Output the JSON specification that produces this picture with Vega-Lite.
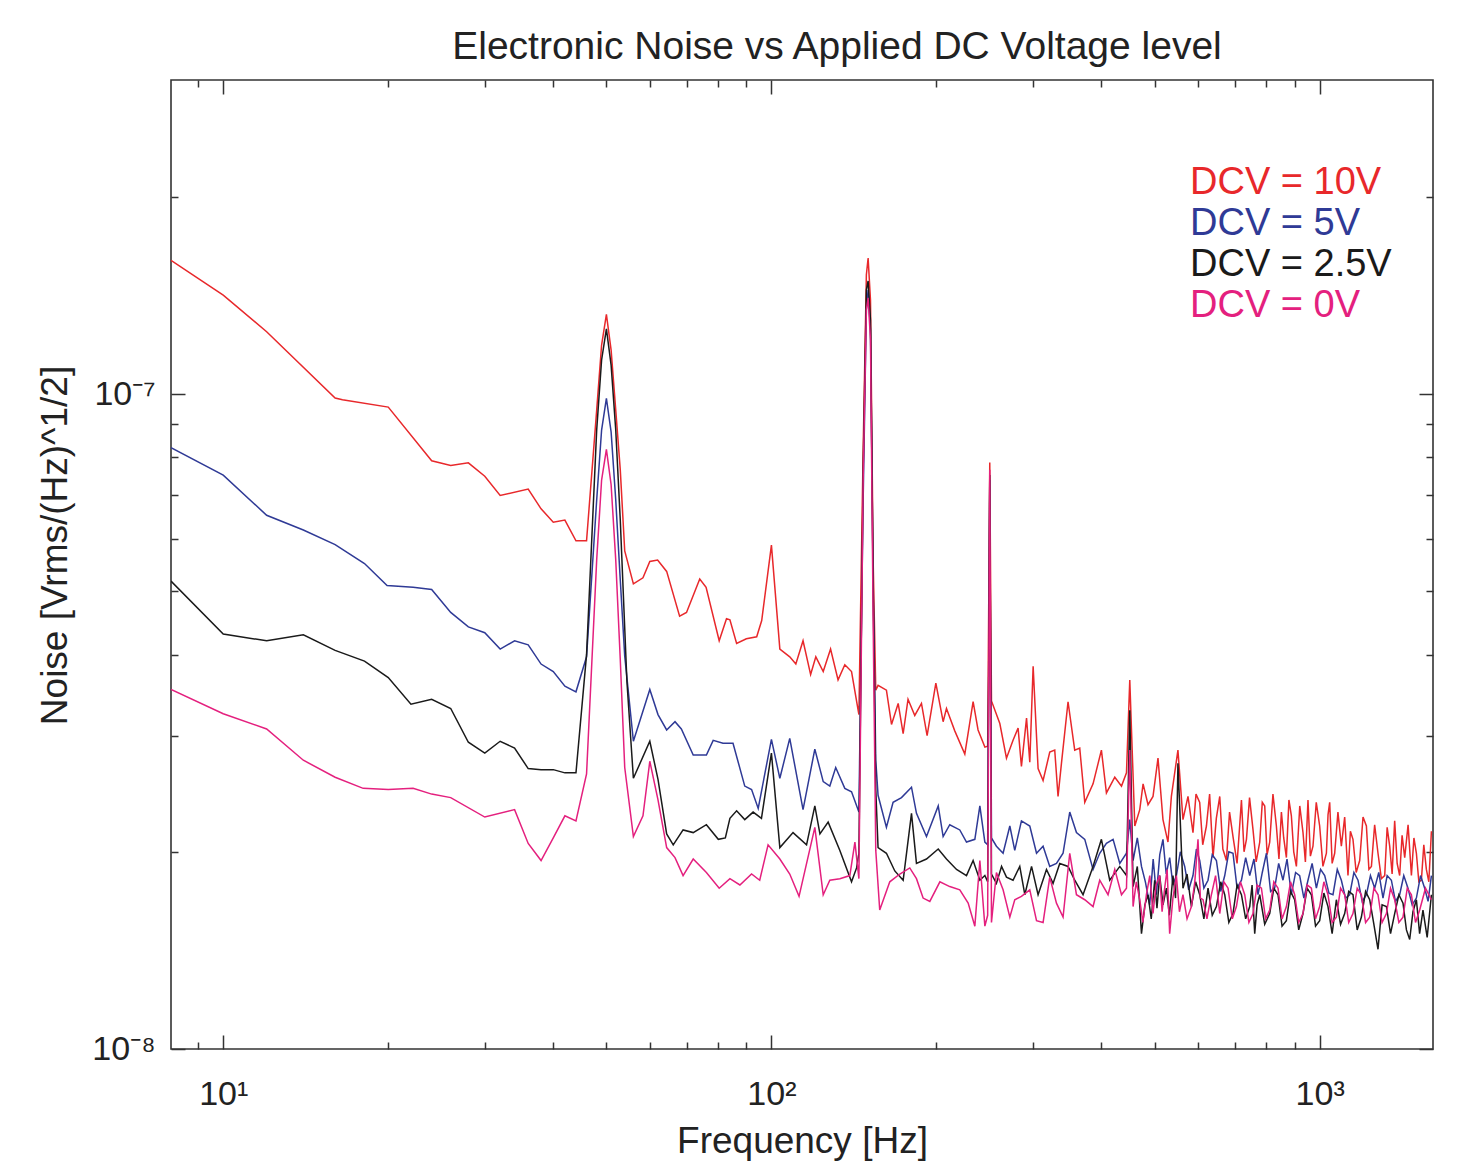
{
  "$schema": "https://vega.github.io/schema/vega-lite/v6.json",
  "width": 1262,
  "height": 969,
  "autosize": {"type": "none"},
  "padding": {"left": 171, "top": 80, "right": 47, "bottom": 123},
  "background": "white",
  "title": {"text": "Electronic Noise vs Applied DC Voltage level", "anchor": "middle", "frame": "group", "dx": 35, "dy": 42, "offset": 23, "baseline": "alphabetic", "fontSize": 39, "fontWeight": "normal", "font": "Liberation Sans", "color": "#222222"},
  "config": {
    "view": {"stroke": "#333333", "strokeWidth": 1.6},
    "axis": {"domain": false, "grid": false, "labelFont": "Liberation Sans", "titleFont": "Liberation Sans", "tickColor": "#333333", "tickWidth": 1.5, "labelColor": "#222222", "titleColor": "#222222", "titleFontWeight": "normal", "labelOverlap": false, "labelBound": false, "labelFlush": false}
  },
  "datasets": {
    "dcv10": [
      {"freq":8.03,"noise":1.600e-7},{"freq":10,"noise":1.416e-7},{"freq":12,"noise":1.245e-7},{"freq":16,"noise":9.86e-8},{"freq":16.5,"noise":9.80e-8},{"freq":20,"noise":9.55e-8},{"freq":24,"noise":7.91e-8},{"freq":26,"noise":7.78e-8},{"freq":28,"noise":7.85e-8},{"freq":30,"noise":7.49e-8},{"freq":32,"noise":7.00e-8},{"freq":36,"noise":7.16e-8},{"freq":38,"noise":6.68e-8},{"freq":40,"noise":6.37e-8},{"freq":42,"noise":6.42e-8},{"freq":44,"noise":5.97e-8},{"freq":46,"noise":5.97e-8},{"freq":48,"noise":9.45e-8},{"freq":49,"noise":1.188e-7},{"freq":50,"noise":1.323e-7},{"freq":51,"noise":1.167e-7},{"freq":52,"noise":9.45e-8},{"freq":53,"noise":7.66e-8},{"freq":54,"noise":5.76e-8},{"freq":56,"noise":5.13e-8},{"freq":58.3,"noise":5.24e-8},{"freq":60,"noise":5.55e-8},{"freq":62,"noise":5.58e-8},{"freq":64.4,"noise":5.36e-8},{"freq":68,"noise":4.58e-8},{"freq":70,"noise":4.64e-8},{"freq":74,"noise":5.22e-8},{"freq":76,"noise":5.07e-8},{"freq":80.3,"noise":4.20e-8},{"freq":82.8,"noise":4.54e-8},{"freq":84,"noise":4.52e-8},{"freq":86.4,"noise":4.16e-8},{"freq":90,"noise":4.23e-8},{"freq":94,"noise":4.26e-8},{"freq":96,"noise":4.51e-8},{"freq":100,"noise":5.88e-8},{"freq":103.6,"noise":4.08e-8},{"freq":108,"noise":3.97e-8},{"freq":110.8,"noise":3.87e-8},{"freq":114.2,"noise":4.20e-8},{"freq":117.9,"noise":3.73e-8},{"freq":120.5,"noise":3.97e-8},{"freq":124.3,"noise":3.77e-8},{"freq":128.2,"noise":4.08e-8},{"freq":132.3,"noise":3.66e-8},{"freq":136.1,"noise":3.86e-8},{"freq":140,"noise":3.77e-8},{"freq":144.4,"noise":3.24e-8},{"freq":147,"noise":8.21e-8},{"freq":149,"noise":1.52e-7},{"freq":150.1,"noise":1.613e-7},{"freq":151.6,"noise":1.392e-7},{"freq":153.3,"noise":5.58e-8},{"freq":155,"noise":3.53e-8},{"freq":156.5,"noise":3.59e-8},{"freq":162.1,"noise":3.53e-8},{"freq":165.6,"noise":3.13e-8},{"freq":170.3,"noise":3.37e-8},{"freq":173.9,"noise":3.03e-8},{"freq":177.5,"noise":3.42e-8},{"freq":182.6,"noise":3.23e-8},{"freq":187.8,"noise":3.37e-8},{"freq":192.3,"noise":3.01e-8},{"freq":199.5,"noise":3.62e-8},{"freq":205.7,"noise":3.16e-8},{"freq":208.6,"noise":3.31e-8},{"freq":216,"noise":3.06e-8},{"freq":225.3,"noise":2.82e-8},{"freq":233.3,"noise":3.39e-8},{"freq":238.2,"noise":3.07e-8},{"freq":245.1,"noise":2.89e-8},{"freq":248,"noise":2.90e-8},{"freq":250.2,"noise":7.86e-8},{"freq":252,"noise":3.40e-8},{"freq":261,"noise":3.14e-8},{"freq":268.4,"noise":2.78e-8},{"freq":275.9,"noise":2.96e-8},{"freq":281.8,"noise":3.09e-8},{"freq":285.8,"noise":2.70e-8},{"freq":292,"noise":3.20e-8},{"freq":296,"noise":2.74e-8},{"freq":300.2,"noise":3.84e-8},{"freq":306.5,"noise":2.68e-8},{"freq":313,"noise":2.57e-8},{"freq":321.9,"noise":2.84e-8},{"freq":328.7,"noise":2.86e-8},{"freq":333.3,"noise":2.43e-8},{"freq":338.1,"noise":2.73e-8},{"freq":347.6,"noise":3.39e-8},{"freq":357.5,"noise":2.86e-8},{"freq":365.1,"noise":2.88e-8},{"freq":372.9,"noise":2.38e-8},{"freq":386.1,"noise":2.54e-8},{"freq":399.9,"noise":2.86e-8},{"freq":408.4,"noise":2.46e-8},{"freq":423,"noise":2.60e-8},{"freq":435.1,"noise":2.52e-8},{"freq":444.3,"noise":2.64e-8},{"freq":450.5,"noise":3.66e-8},{"freq":460.1,"noise":2.19e-8},{"freq":469.8,"noise":2.32e-8},{"freq":476.4,"noise":2.54e-8},{"freq":486.4,"noise":2.36e-8},{"freq":496.7,"noise":2.43e-8},{"freq":507.2,"noise":2.78e-8},{"freq":517.9,"noise":2.24e-8},{"freq":528.9,"noise":2.07e-8},{"freq":536.5,"noise":2.43e-8},{"freq":551.5,"noise":2.86e-8},{"freq":563.3,"noise":2.24e-8},{"freq":575.3,"noise":2.43e-8},{"freq":587.5,"noise":2.14e-8},{"freq":595,"noise":2.45e-8},{"freq":604.3,"noise":2.38e-8},{"freq":612,"noise":2.05e-8},{"freq":621.6,"noise":2.19e-8},{"freq":630,"noise":2.45e-8},{"freq":639,"noise":1.96e-8},{"freq":648,"noise":2.25e-8},{"freq":657.4,"noise":2.43e-8},{"freq":666,"noise":2.02e-8},{"freq":676.1,"noise":1.94e-8},{"freq":685,"noise":2.30e-8},{"freq":695,"noise":2.11e-8},{"freq":707,"noise":1.92e-8},{"freq":720.1,"noise":2.40e-8},{"freq":728,"noise":2.00e-8},{"freq":735.4,"noise":2.09e-8},{"freq":745,"noise":2.42e-8},{"freq":756,"noise":2.16e-8},{"freq":766,"noise":1.93e-8},{"freq":777.6,"noise":2.07e-8},{"freq":786,"noise":2.38e-8},{"freq":794.1,"noise":2.35e-8},{"freq":802,"noise":1.98e-8},{"freq":810.9,"noise":2.07e-8},{"freq":822,"noise":2.45e-8},{"freq":833.9,"noise":2.19e-8},{"freq":843,"noise":1.95e-8},{"freq":851.7,"noise":2.30e-8},{"freq":860,"noise":2.10e-8},{"freq":869.7,"noise":1.96e-8},{"freq":879,"noise":2.40e-8},{"freq":888.1,"noise":2.27e-8},{"freq":897,"noise":2.00e-8},{"freq":907,"noise":1.90e-8},{"freq":920,"noise":2.35e-8},{"freq":932.6,"noise":2.14e-8},{"freq":942,"noise":1.93e-8},{"freq":952.3,"noise":2.40e-8},{"freq":962,"noise":1.97e-8},{"freq":972.5,"noise":2.04e-8},{"freq":986,"noise":2.38e-8},{"freq":1000.2,"noise":2.19e-8},{"freq":1014,"noise":1.90e-8},{"freq":1028.9,"noise":1.99e-8},{"freq":1036,"noise":2.28e-8},{"freq":1043.2,"noise":2.38e-8},{"freq":1054,"noise":1.92e-8},{"freq":1065.3,"noise":1.99e-8},{"freq":1080,"noise":2.30e-8},{"freq":1095.6,"noise":2.04e-8},{"freq":1111,"noise":2.26e-8},{"freq":1126.5,"noise":1.84e-8},{"freq":1138,"noise":2.15e-8},{"freq":1150.4,"noise":2.09e-8},{"freq":1166,"noise":1.86e-8},{"freq":1183.3,"noise":1.94e-8},{"freq":1200,"noise":2.26e-8},{"freq":1217.1,"noise":2.19e-8},{"freq":1230,"noise":1.88e-8},{"freq":1243,"noise":1.90e-8},{"freq":1260,"noise":2.20e-8},{"freq":1277.9,"noise":1.99e-8},{"freq":1296,"noise":1.82e-8},{"freq":1314.4,"noise":1.84e-8},{"freq":1328,"noise":2.18e-8},{"freq":1342.2,"noise":2.04e-8},{"freq":1356,"noise":1.85e-8},{"freq":1370.6,"noise":2.23e-8},{"freq":1385,"noise":1.92e-8},{"freq":1399.6,"noise":1.84e-8},{"freq":1414,"noise":2.12e-8},{"freq":1429.6,"noise":1.96e-8},{"freq":1450,"noise":2.20e-8},{"freq":1470.4,"noise":1.84e-8},{"freq":1486,"noise":2.10e-8},{"freq":1501.5,"noise":1.99e-8},{"freq":1517,"noise":1.80e-8},{"freq":1533.3,"noise":1.81e-8},{"freq":1549,"noise":2.05e-8},{"freq":1565.8,"noise":1.88e-8},{"freq":1582,"noise":1.80e-8},{"freq":1599.3,"noise":2.15e-8}
    ],
    "dcv5": [
      {"freq":8.03,"noise":8.28e-8},{"freq":10,"noise":7.52e-8},{"freq":12,"noise":6.53e-8},{"freq":14,"noise":6.20e-8},{"freq":16,"noise":5.89e-8},{"freq":18.1,"noise":5.51e-8},{"freq":19.9,"noise":5.10e-8},{"freq":22.2,"noise":5.07e-8},{"freq":24,"noise":5.03e-8},{"freq":26,"noise":4.64e-8},{"freq":28,"noise":4.41e-8},{"freq":30,"noise":4.32e-8},{"freq":32,"noise":4.08e-8},{"freq":34,"noise":4.20e-8},{"freq":36,"noise":4.14e-8},{"freq":38,"noise":3.87e-8},{"freq":40,"noise":3.77e-8},{"freq":42,"noise":3.58e-8},{"freq":44,"noise":3.51e-8},{"freq":46,"noise":3.97e-8},{"freq":48,"noise":6.89e-8},{"freq":49,"noise":8.81e-8},{"freq":50,"noise":9.85e-8},{"freq":51,"noise":8.75e-8},{"freq":52,"noise":6.89e-8},{"freq":53,"noise":5.20e-8},{"freq":54,"noise":3.98e-8},{"freq":56,"noise":2.95e-8},{"freq":60,"noise":3.54e-8},{"freq":62.1,"noise":3.24e-8},{"freq":64.4,"noise":3.07e-8},{"freq":66.7,"noise":3.16e-8},{"freq":68.5,"noise":3.08e-8},{"freq":72,"noise":2.81e-8},{"freq":76.1,"noise":2.81e-8},{"freq":78.3,"noise":2.96e-8},{"freq":81.6,"noise":2.93e-8},{"freq":85.1,"noise":2.93e-8},{"freq":89.4,"noise":2.52e-8},{"freq":92,"noise":2.49e-8},{"freq":94.6,"noise":2.33e-8},{"freq":100,"noise":2.97e-8},{"freq":103.6,"noise":2.59e-8},{"freq":108,"noise":2.98e-8},{"freq":114.2,"noise":2.32e-8},{"freq":120,"noise":2.87e-8},{"freq":124.3,"noise":2.56e-8},{"freq":127.8,"noise":2.52e-8},{"freq":131,"noise":2.69e-8},{"freq":136.1,"noise":2.50e-8},{"freq":140,"noise":2.47e-8},{"freq":144.4,"noise":2.30e-8},{"freq":147,"noise":6.89e-8},{"freq":149,"noise":1.344e-7},{"freq":150.1,"noise":1.441e-7},{"freq":151.6,"noise":1.252e-7},{"freq":153.3,"noise":5.20e-8},{"freq":155,"noise":2.76e-8},{"freq":156.5,"noise":2.44e-8},{"freq":162.1,"noise":2.18e-8},{"freq":166.7,"noise":2.38e-8},{"freq":172.7,"noise":2.42e-8},{"freq":180.1,"noise":2.51e-8},{"freq":183.9,"noise":2.29e-8},{"freq":191.8,"noise":2.11e-8},{"freq":201.5,"noise":2.35e-8},{"freq":205.7,"noise":2.11e-8},{"freq":211.5,"noise":2.20e-8},{"freq":220.6,"noise":2.16e-8},{"freq":226.9,"noise":2.07e-8},{"freq":235,"noise":2.09e-8},{"freq":240,"noise":2.35e-8},{"freq":245.1,"noise":2.07e-8},{"freq":248,"noise":2.05e-8},{"freq":250.2,"noise":7.39e-8},{"freq":252,"noise":2.10e-8},{"freq":257.3,"noise":2.04e-8},{"freq":264.6,"noise":1.99e-8},{"freq":272.2,"noise":2.19e-8},{"freq":277.9,"noise":2.01e-8},{"freq":285.8,"noise":2.23e-8},{"freq":296,"noise":2.19e-8},{"freq":304.5,"noise":1.99e-8},{"freq":313,"noise":2.04e-8},{"freq":321.9,"noise":1.90e-8},{"freq":331.1,"noise":1.92e-8},{"freq":340.4,"noise":1.99e-8},{"freq":350.1,"noise":2.30e-8},{"freq":360.1,"noise":2.14e-8},{"freq":372.9,"noise":2.09e-8},{"freq":386.1,"noise":1.88e-8},{"freq":397.1,"noise":1.99e-8},{"freq":408.4,"noise":2.06e-8},{"freq":420,"noise":2.09e-8},{"freq":432,"noise":1.92e-8},{"freq":444.3,"noise":1.99e-8},{"freq":450.5,"noise":2.24e-8},{"freq":456.8,"noise":1.94e-8},{"freq":465,"noise":2.10e-8},{"freq":473.2,"noise":1.90e-8},{"freq":481,"noise":1.80e-8},{"freq":489.8,"noise":1.66e-8},{"freq":497,"noise":1.95e-8},{"freq":503.8,"noise":1.72e-8},{"freq":511,"noise":1.98e-8},{"freq":517.9,"noise":2.09e-8},{"freq":525,"noise":1.85e-8},{"freq":532.7,"noise":1.96e-8},{"freq":540,"noise":1.78e-8},{"freq":547.9,"noise":1.84e-8},{"freq":557,"noise":2.00e-8},{"freq":567.4,"noise":1.90e-8},{"freq":577,"noise":1.75e-8},{"freq":587.5,"noise":1.84e-8},{"freq":596,"noise":2.02e-8},{"freq":604.3,"noise":1.94e-8},{"freq":615,"noise":1.76e-8},{"freq":625.8,"noise":1.81e-8},{"freq":637,"noise":1.98e-8},{"freq":648.2,"noise":1.94e-8},{"freq":660,"noise":1.74e-8},{"freq":671.3,"noise":1.84e-8},{"freq":683,"noise":2.00e-8},{"freq":695,"noise":1.99e-8},{"freq":707,"noise":1.76e-8},{"freq":720.1,"noise":1.81e-8},{"freq":733,"noise":1.96e-8},{"freq":745.6,"noise":1.84e-8},{"freq":759,"noise":1.95e-8},{"freq":772,"noise":1.72e-8},{"freq":786,"noise":1.86e-8},{"freq":799.8,"noise":1.99e-8},{"freq":814,"noise":1.74e-8},{"freq":827.9,"noise":1.76e-8},{"freq":842,"noise":1.92e-8},{"freq":857.4,"noise":1.81e-8},{"freq":872,"noise":1.95e-8},{"freq":888.1,"noise":1.72e-8},{"freq":904,"noise":1.86e-8},{"freq":919.6,"noise":1.84e-8},{"freq":936,"noise":1.70e-8},{"freq":952.3,"noise":1.81e-8},{"freq":969,"noise":1.92e-8},{"freq":986.5,"noise":1.76e-8},{"freq":1004,"noise":1.88e-8},{"freq":1021.6,"noise":1.84e-8},{"freq":1040,"noise":1.73e-8},{"freq":1057.8,"noise":1.72e-8},{"freq":1077,"noise":1.88e-8},{"freq":1095.6,"noise":1.81e-8},{"freq":1115,"noise":1.70e-8},{"freq":1134.6,"noise":1.72e-8},{"freq":1155,"noise":1.86e-8},{"freq":1174.9,"noise":1.81e-8},{"freq":1196,"noise":1.68e-8},{"freq":1217.1,"noise":1.72e-8},{"freq":1238,"noise":1.84e-8},{"freq":1260.3,"noise":1.76e-8},{"freq":1282,"noise":1.86e-8},{"freq":1305,"noise":1.70e-8},{"freq":1328,"noise":1.84e-8},{"freq":1351.8,"noise":1.81e-8},{"freq":1375,"noise":1.68e-8},{"freq":1399.6,"noise":1.72e-8},{"freq":1424,"noise":1.84e-8},{"freq":1449.5,"noise":1.76e-8},{"freq":1475,"noise":1.66e-8},{"freq":1501.5,"noise":1.70e-8},{"freq":1528,"noise":1.84e-8},{"freq":1554.7,"noise":1.76e-8},{"freq":1577,"noise":1.68e-8},{"freq":1599.3,"noise":1.84e-8}
    ],
    "dcv2_5": [
      {"freq":8.03,"noise":5.18e-8},{"freq":10,"noise":4.30e-8},{"freq":12,"noise":4.20e-8},{"freq":14,"noise":4.29e-8},{"freq":16,"noise":4.06e-8},{"freq":18.1,"noise":3.91e-8},{"freq":20,"noise":3.69e-8},{"freq":22,"noise":3.36e-8},{"freq":24,"noise":3.42e-8},{"freq":26,"noise":3.31e-8},{"freq":28,"noise":2.94e-8},{"freq":30,"noise":2.83e-8},{"freq":32,"noise":2.95e-8},{"freq":34,"noise":2.88e-8},{"freq":36,"noise":2.68e-8},{"freq":38,"noise":2.67e-8},{"freq":40,"noise":2.67e-8},{"freq":42,"noise":2.64e-8},{"freq":44,"noise":2.64e-8},{"freq":46,"noise":4.00e-8},{"freq":48,"noise":8.81e-8},{"freq":49,"noise":1.127e-7},{"freq":50,"noise":1.257e-7},{"freq":51,"noise":1.107e-7},{"freq":52,"noise":8.81e-8},{"freq":53,"noise":6.42e-8},{"freq":54.5,"noise":3.64e-8},{"freq":56,"noise":2.59e-8},{"freq":60,"noise":2.95e-8},{"freq":62.1,"noise":2.58e-8},{"freq":64.4,"noise":2.13e-8},{"freq":66.2,"noise":2.05e-8},{"freq":69,"noise":2.16e-8},{"freq":72,"noise":2.14e-8},{"freq":76.1,"noise":2.20e-8},{"freq":80,"noise":2.09e-8},{"freq":82.4,"noise":2.10e-8},{"freq":84,"noise":2.25e-8},{"freq":86.4,"noise":2.31e-8},{"freq":89.4,"noise":2.24e-8},{"freq":92.6,"noise":2.30e-8},{"freq":95.9,"noise":2.25e-8},{"freq":100,"noise":2.83e-8},{"freq":103.6,"noise":2.03e-8},{"freq":109.5,"noise":2.14e-8},{"freq":115.9,"noise":2.05e-8},{"freq":120,"noise":2.35e-8},{"freq":122.6,"noise":2.13e-8},{"freq":126.9,"noise":2.22e-8},{"freq":133.3,"noise":2.01e-8},{"freq":140,"noise":1.80e-8},{"freq":143,"noise":1.89e-8},{"freq":144.4,"noise":1.99e-8},{"freq":147,"noise":7.66e-8},{"freq":149,"noise":1.441e-7},{"freq":150.1,"noise":1.488e-7},{"freq":151.6,"noise":1.297e-7},{"freq":153.3,"noise":5.02e-8},{"freq":155,"noise":2.49e-8},{"freq":156.5,"noise":2.03e-8},{"freq":162.1,"noise":1.99e-8},{"freq":167.9,"noise":1.87e-8},{"freq":173.9,"noise":1.81e-8},{"freq":180.1,"noise":2.29e-8},{"freq":183.9,"noise":1.92e-8},{"freq":191.8,"noise":1.95e-8},{"freq":201.5,"noise":2.02e-8},{"freq":208.6,"noise":1.95e-8},{"freq":217.6,"noise":1.88e-8},{"freq":226.9,"noise":1.84e-8},{"freq":233.3,"noise":1.94e-8},{"freq":240,"noise":1.81e-8},{"freq":245.1,"noise":1.84e-8},{"freq":248,"noise":1.80e-8},{"freq":250.2,"noise":7.52e-8},{"freq":252,"noise":1.85e-8},{"freq":257.3,"noise":1.79e-8},{"freq":262.9,"noise":1.90e-8},{"freq":268.4,"noise":1.83e-8},{"freq":275.9,"noise":1.81e-8},{"freq":283.8,"noise":1.90e-8},{"freq":289.9,"noise":1.72e-8},{"freq":298.2,"noise":1.90e-8},{"freq":306.5,"noise":1.72e-8},{"freq":317.5,"noise":1.88e-8},{"freq":326.4,"noise":1.79e-8},{"freq":335.7,"noise":1.92e-8},{"freq":347.6,"noise":1.90e-8},{"freq":357.5,"noise":1.81e-8},{"freq":370.2,"noise":1.72e-8},{"freq":386.1,"noise":1.90e-8},{"freq":399.9,"noise":2.09e-8},{"freq":414.1,"noise":1.81e-8},{"freq":432,"noise":1.90e-8},{"freq":444.3,"noise":1.84e-8},{"freq":450.5,"noise":3.29e-8},{"freq":456.8,"noise":1.77e-8},{"freq":465,"noise":1.90e-8},{"freq":473.2,"noise":1.50e-8},{"freq":480,"noise":1.66e-8},{"freq":486.4,"noise":1.72e-8},{"freq":493,"noise":1.58e-8},{"freq":500.2,"noise":1.81e-8},{"freq":505,"noise":1.64e-8},{"freq":510.8,"noise":1.84e-8},{"freq":518,"noise":1.66e-8},{"freq":525.4,"noise":1.76e-8},{"freq":532,"noise":1.60e-8},{"freq":540.1,"noise":1.84e-8},{"freq":546,"noise":1.70e-8},{"freq":551.5,"noise":2.73e-8},{"freq":563.3,"noise":1.76e-8},{"freq":573,"noise":1.85e-8},{"freq":583.6,"noise":1.65e-8},{"freq":594,"noise":1.80e-8},{"freq":604.3,"noise":1.72e-8},{"freq":615,"noise":1.58e-8},{"freq":625.8,"noise":1.76e-8},{"freq":637,"noise":1.60e-8},{"freq":648.2,"noise":1.65e-8},{"freq":660,"noise":1.80e-8},{"freq":671.3,"noise":1.72e-8},{"freq":683,"noise":1.56e-8},{"freq":695,"noise":1.61e-8},{"freq":707,"noise":1.78e-8},{"freq":720.1,"noise":1.72e-8},{"freq":733,"noise":1.58e-8},{"freq":745.6,"noise":1.65e-8},{"freq":753,"noise":1.78e-8},{"freq":761.4,"noise":1.50e-8},{"freq":769,"noise":1.66e-8},{"freq":777.6,"noise":1.72e-8},{"freq":794,"noise":1.55e-8},{"freq":810.9,"noise":1.61e-8},{"freq":825,"noise":1.76e-8},{"freq":839.7,"noise":1.72e-8},{"freq":854,"noise":1.54e-8},{"freq":869.7,"noise":1.57e-8},{"freq":885,"noise":1.74e-8},{"freq":900.5,"noise":1.69e-8},{"freq":916,"noise":1.52e-8},{"freq":932.6,"noise":1.61e-8},{"freq":949,"noise":1.76e-8},{"freq":966,"noise":1.72e-8},{"freq":983,"noise":1.54e-8},{"freq":1000.2,"noise":1.57e-8},{"freq":1018,"noise":1.73e-8},{"freq":1035.8,"noise":1.65e-8},{"freq":1054,"noise":1.50e-8},{"freq":1072.9,"noise":1.69e-8},{"freq":1092,"noise":1.55e-8},{"freq":1111,"noise":1.61e-8},{"freq":1130,"noise":1.74e-8},{"freq":1150.4,"noise":1.72e-8},{"freq":1171,"noise":1.52e-8},{"freq":1191.8,"noise":1.59e-8},{"freq":1213,"noise":1.74e-8},{"freq":1234.1,"noise":1.69e-8},{"freq":1256,"noise":1.55e-8},{"freq":1277.9,"noise":1.42e-8},{"freq":1300,"noise":1.66e-8},{"freq":1323.8,"noise":1.65e-8},{"freq":1347,"noise":1.50e-8},{"freq":1370.6,"noise":1.61e-8},{"freq":1395,"noise":1.72e-8},{"freq":1419.4,"noise":1.67e-8},{"freq":1440,"noise":1.52e-8},{"freq":1459.9,"noise":1.47e-8},{"freq":1480,"noise":1.62e-8},{"freq":1501.5,"noise":1.69e-8},{"freq":1522,"noise":1.50e-8},{"freq":1543.6,"noise":1.63e-8},{"freq":1571,"noise":1.48e-8},{"freq":1599.3,"noise":1.72e-8}
    ],
    "dcv0": [
      {"freq":8.03,"noise":3.54e-8},{"freq":10,"noise":3.25e-8},{"freq":12,"noise":3.08e-8},{"freq":14,"noise":2.76e-8},{"freq":16,"noise":2.60e-8},{"freq":18,"noise":2.50e-8},{"freq":20,"noise":2.49e-8},{"freq":22.2,"noise":2.50e-8},{"freq":24,"noise":2.45e-8},{"freq":26,"noise":2.42e-8},{"freq":30,"noise":2.26e-8},{"freq":34,"noise":2.32e-8},{"freq":36,"noise":2.06e-8},{"freq":38,"noise":1.94e-8},{"freq":40,"noise":2.10e-8},{"freq":42,"noise":2.27e-8},{"freq":44,"noise":2.23e-8},{"freq":46,"noise":2.63e-8},{"freq":48,"noise":5.58e-8},{"freq":49,"noise":7.39e-8},{"freq":50,"noise":8.23e-8},{"freq":51,"noise":7.27e-8},{"freq":52,"noise":5.58e-8},{"freq":53,"noise":3.93e-8},{"freq":54,"noise":2.69e-8},{"freq":56,"noise":2.11e-8},{"freq":58.3,"noise":2.27e-8},{"freq":60,"noise":2.75e-8},{"freq":62.1,"noise":2.40e-8},{"freq":64.4,"noise":2.03e-8},{"freq":66.7,"noise":1.96e-8},{"freq":69,"noise":1.84e-8},{"freq":72,"noise":1.95e-8},{"freq":76.1,"noise":1.86e-8},{"freq":80.3,"noise":1.76e-8},{"freq":84,"noise":1.82e-8},{"freq":87.6,"noise":1.78e-8},{"freq":92,"noise":1.85e-8},{"freq":95.2,"noise":1.81e-8},{"freq":98.6,"noise":2.05e-8},{"freq":103.6,"noise":1.95e-8},{"freq":108,"noise":1.85e-8},{"freq":112.3,"noise":1.71e-8},{"freq":120,"noise":2.18e-8},{"freq":124.3,"noise":1.72e-8},{"freq":127.8,"noise":1.81e-8},{"freq":133.3,"noise":1.82e-8},{"freq":139,"noise":1.84e-8},{"freq":142,"noise":2.07e-8},{"freq":144.4,"noise":1.82e-8},{"freq":147,"noise":7.39e-8},{"freq":149,"noise":1.344e-7},{"freq":150.1,"noise":1.402e-7},{"freq":151.6,"noise":1.209e-7},{"freq":153.3,"noise":4.52e-8},{"freq":155,"noise":2.01e-8},{"freq":157.6,"noise":1.63e-8},{"freq":164.4,"noise":1.80e-8},{"freq":171.5,"noise":1.85e-8},{"freq":178.8,"noise":1.89e-8},{"freq":183.9,"noise":1.82e-8},{"freq":189.1,"noise":1.70e-8},{"freq":194.5,"noise":1.68e-8},{"freq":202.9,"noise":1.80e-8},{"freq":211.5,"noise":1.77e-8},{"freq":220.6,"noise":1.75e-8},{"freq":228.5,"noise":1.67e-8},{"freq":235,"noise":1.54e-8},{"freq":240,"noise":1.94e-8},{"freq":245.1,"noise":1.54e-8},{"freq":248,"noise":1.60e-8},{"freq":250.2,"noise":7.66e-8},{"freq":252,"noise":1.56e-8},{"freq":257.3,"noise":1.86e-8},{"freq":264.6,"noise":1.75e-8},{"freq":272.2,"noise":1.59e-8},{"freq":277.9,"noise":1.69e-8},{"freq":285.8,"noise":1.71e-8},{"freq":296,"noise":1.75e-8},{"freq":304.5,"noise":1.57e-8},{"freq":313,"noise":1.56e-8},{"freq":321.9,"noise":1.83e-8},{"freq":331.1,"noise":1.67e-8},{"freq":340.4,"noise":1.59e-8},{"freq":350.1,"noise":1.99e-8},{"freq":360.1,"noise":1.72e-8},{"freq":372.9,"noise":1.69e-8},{"freq":386.1,"noise":1.65e-8},{"freq":397.1,"noise":1.81e-8},{"freq":411.2,"noise":1.72e-8},{"freq":423,"noise":1.88e-8},{"freq":435.1,"noise":1.72e-8},{"freq":444.3,"noise":1.76e-8},{"freq":450.5,"noise":2.86e-8},{"freq":456.8,"noise":1.65e-8},{"freq":463,"noise":1.80e-8},{"freq":469.8,"noise":1.69e-8},{"freq":476,"noise":1.56e-8},{"freq":483.1,"noise":1.72e-8},{"freq":490,"noise":1.84e-8},{"freq":496.7,"noise":1.61e-8},{"freq":503,"noise":1.78e-8},{"freq":510.8,"noise":1.84e-8},{"freq":516,"noise":1.62e-8},{"freq":521.6,"noise":1.76e-8},{"freq":527,"noise":1.88e-8},{"freq":532.7,"noise":1.50e-8},{"freq":540,"noise":1.70e-8},{"freq":547.9,"noise":1.84e-8},{"freq":555,"noise":1.62e-8},{"freq":563.3,"noise":1.72e-8},{"freq":573,"noise":1.58e-8},{"freq":583.6,"noise":1.65e-8},{"freq":592,"noise":1.80e-8},{"freq":600,"noise":2.09e-8},{"freq":606,"noise":1.70e-8},{"freq":612.8,"noise":1.69e-8},{"freq":623,"noise":1.58e-8},{"freq":634.7,"noise":1.72e-8},{"freq":646,"noise":1.84e-8},{"freq":657.4,"noise":1.61e-8},{"freq":669,"noise":1.80e-8},{"freq":680.7,"noise":1.76e-8},{"freq":693,"noise":1.58e-8},{"freq":705,"noise":1.65e-8},{"freq":717,"noise":1.80e-8},{"freq":730.1,"noise":1.72e-8},{"freq":743,"noise":1.56e-8},{"freq":756,"noise":1.61e-8},{"freq":769,"noise":1.78e-8},{"freq":783.1,"noise":1.76e-8},{"freq":797,"noise":1.58e-8},{"freq":810.9,"noise":1.63e-8},{"freq":825,"noise":1.80e-8},{"freq":839.7,"noise":1.76e-8},{"freq":854,"noise":1.58e-8},{"freq":869.7,"noise":1.65e-8},{"freq":885,"noise":1.80e-8},{"freq":900.5,"noise":1.72e-8},{"freq":916,"noise":1.56e-8},{"freq":932.6,"noise":1.61e-8},{"freq":949,"noise":1.78e-8},{"freq":966,"noise":1.76e-8},{"freq":983,"noise":1.58e-8},{"freq":1000.2,"noise":1.65e-8},{"freq":1018,"noise":1.80e-8},{"freq":1035.8,"noise":1.72e-8},{"freq":1054,"noise":1.56e-8},{"freq":1072.9,"noise":1.59e-8},{"freq":1092,"noise":1.76e-8},{"freq":1111,"noise":1.72e-8},{"freq":1130,"noise":1.56e-8},{"freq":1150.4,"noise":1.61e-8},{"freq":1171,"noise":1.76e-8},{"freq":1191.8,"noise":1.72e-8},{"freq":1213,"noise":1.56e-8},{"freq":1234.1,"noise":1.59e-8},{"freq":1256,"noise":1.76e-8},{"freq":1277.9,"noise":1.72e-8},{"freq":1300,"noise":1.56e-8},{"freq":1323.8,"noise":1.61e-8},{"freq":1347,"noise":1.76e-8},{"freq":1370.6,"noise":1.69e-8},{"freq":1395,"noise":1.56e-8},{"freq":1419.4,"noise":1.59e-8},{"freq":1445,"noise":1.76e-8},{"freq":1470.4,"noise":1.72e-8},{"freq":1496,"noise":1.56e-8},{"freq":1522.4,"noise":1.63e-8},{"freq":1560,"noise":1.76e-8},{"freq":1599.3,"noise":1.69e-8}
    ]
  },
  "layer": [
    {
      "data": {"name": "dcv10"},
      "mark": {"type": "line", "strokeWidth": 1.5, "clip": true},
      "encoding": {
        "x": {"field": "freq", "type": "quantitative", "scale": {"type": "log", "domain": [8.03, 1610], "nice": false},
          "axis": {"orient": "bottom", "values": [9,10,20,30,40,50,60,70,80,90,100,200,300,400,500,600,700,800,900,1000],
            "labelExpr": "datum.value == 10 ? '10¹' : datum.value == 100 ? '10²' : datum.value == 1000 ? '10³' : ''",
            "tickSize": {"condition": {"test": "datum.value == 10 || datum.value == 100 || datum.value == 1000", "value": -14}, "value": -7},
            "labelFontSize": 34, "labelPadding": 42, "title": "Frequency [Hz]", "titleFontSize": 37, "titleY": 103, "titleBaseline": "alphabetic"}},
        "y": {"field": "noise", "type": "quantitative", "scale": {"type": "log", "domain": [1e-8, 3.016e-7], "nice": false},
          "axis": {"orient": "left", "values": [1e-8,2e-8,3e-8,4e-8,5e-8,6e-8,7e-8,8e-8,9e-8,1e-7,2e-7],
            "labelExpr": "abs(datum.value - 1e-7) < 1e-12 ? '10⁻⁷' : abs(datum.value - 1e-8) < 1e-13 ? '10⁻⁸' : ''",
            "tickSize": {"condition": {"test": "abs(datum.value - 1e-7) < 1e-12 || abs(datum.value - 1e-8) < 1e-13", "value": -14}, "value": -7},
            "labelFontSize": 34, "labelPadding": 30, "title": "Noise [Vrms/(Hz)^1/2]", "titleFontSize": 37, "titleX": -105, "titleY": 465, "titleBaseline": "alphabetic"}},
        "color": {"datum": "DCV = 10V", "type": "nominal",
          "scale": {"domain": ["DCV = 10V", "DCV = 5V", "DCV = 2.5V", "DCV = 0V"], "range": ["#e8282b", "#2f3a96", "#1a1a1a", "#e4207e"]},
          "legend": {"orient": "none", "legendX": 981, "legendY": 84, "title": null, "symbolSize": 0, "symbolOpacity": 0, "symbolStrokeWidth": 0,
            "labelFontSize": 38, "labelFont": "Liberation Sans", "labelOffset": 0, "rowPadding": 3, "labelLimit": 0,
            "labelColor": {"expr": "datum.value == 'DCV = 10V' ? '#e8282b' : datum.value == 'DCV = 5V' ? '#2f3a96' : datum.value == 'DCV = 2.5V' ? '#1a1a1a' : '#e4207e'"}}}
      }
    },
    {
      "data": {"name": "dcv5"},
      "mark": {"type": "line", "strokeWidth": 1.5, "clip": true},
      "encoding": {
        "x": {"field": "freq", "type": "quantitative", "scale": {"type": "log", "domain": [8.03, 1610], "nice": false},
          "axis": {"orient": "top", "values": [9,10,20,30,40,50,60,70,80,90,100,200,300,400,500,600,700,800,900,1000], "labels": false, "title": null,
            "tickSize": {"condition": {"test": "datum.value == 10 || datum.value == 100 || datum.value == 1000", "value": -14}, "value": -7}}},
        "y": {"field": "noise", "type": "quantitative", "scale": {"type": "log", "domain": [1e-8, 3.016e-7], "nice": false},
          "axis": {"orient": "right", "values": [1e-8,2e-8,3e-8,4e-8,5e-8,6e-8,7e-8,8e-8,9e-8,1e-7,2e-7], "labels": false, "title": null,
            "tickSize": {"condition": {"test": "abs(datum.value - 1e-7) < 1e-12 || abs(datum.value - 1e-8) < 1e-13", "value": -14}, "value": -7}}},
        "color": {"datum": "DCV = 5V", "type": "nominal"}
      }
    },
    {
      "data": {"name": "dcv2_5"},
      "mark": {"type": "line", "strokeWidth": 1.5, "clip": true},
      "encoding": {
        "x": {"field": "freq", "type": "quantitative", "scale": {"type": "log", "domain": [8.03, 1610], "nice": false}, "axis": null},
        "y": {"field": "noise", "type": "quantitative", "scale": {"type": "log", "domain": [1e-8, 3.016e-7], "nice": false}, "axis": null},
        "color": {"datum": "DCV = 2.5V", "type": "nominal"}
      }
    },
    {
      "data": {"name": "dcv0"},
      "mark": {"type": "line", "strokeWidth": 1.5, "clip": true},
      "encoding": {
        "x": {"field": "freq", "type": "quantitative", "scale": {"type": "log", "domain": [8.03, 1610], "nice": false}, "axis": null},
        "y": {"field": "noise", "type": "quantitative", "scale": {"type": "log", "domain": [1e-8, 3.016e-7], "nice": false}, "axis": null},
        "color": {"datum": "DCV = 0V", "type": "nominal"}
      }
    }
  ],
  "resolve": {"axis": {"x": "independent", "y": "independent"}}
}
